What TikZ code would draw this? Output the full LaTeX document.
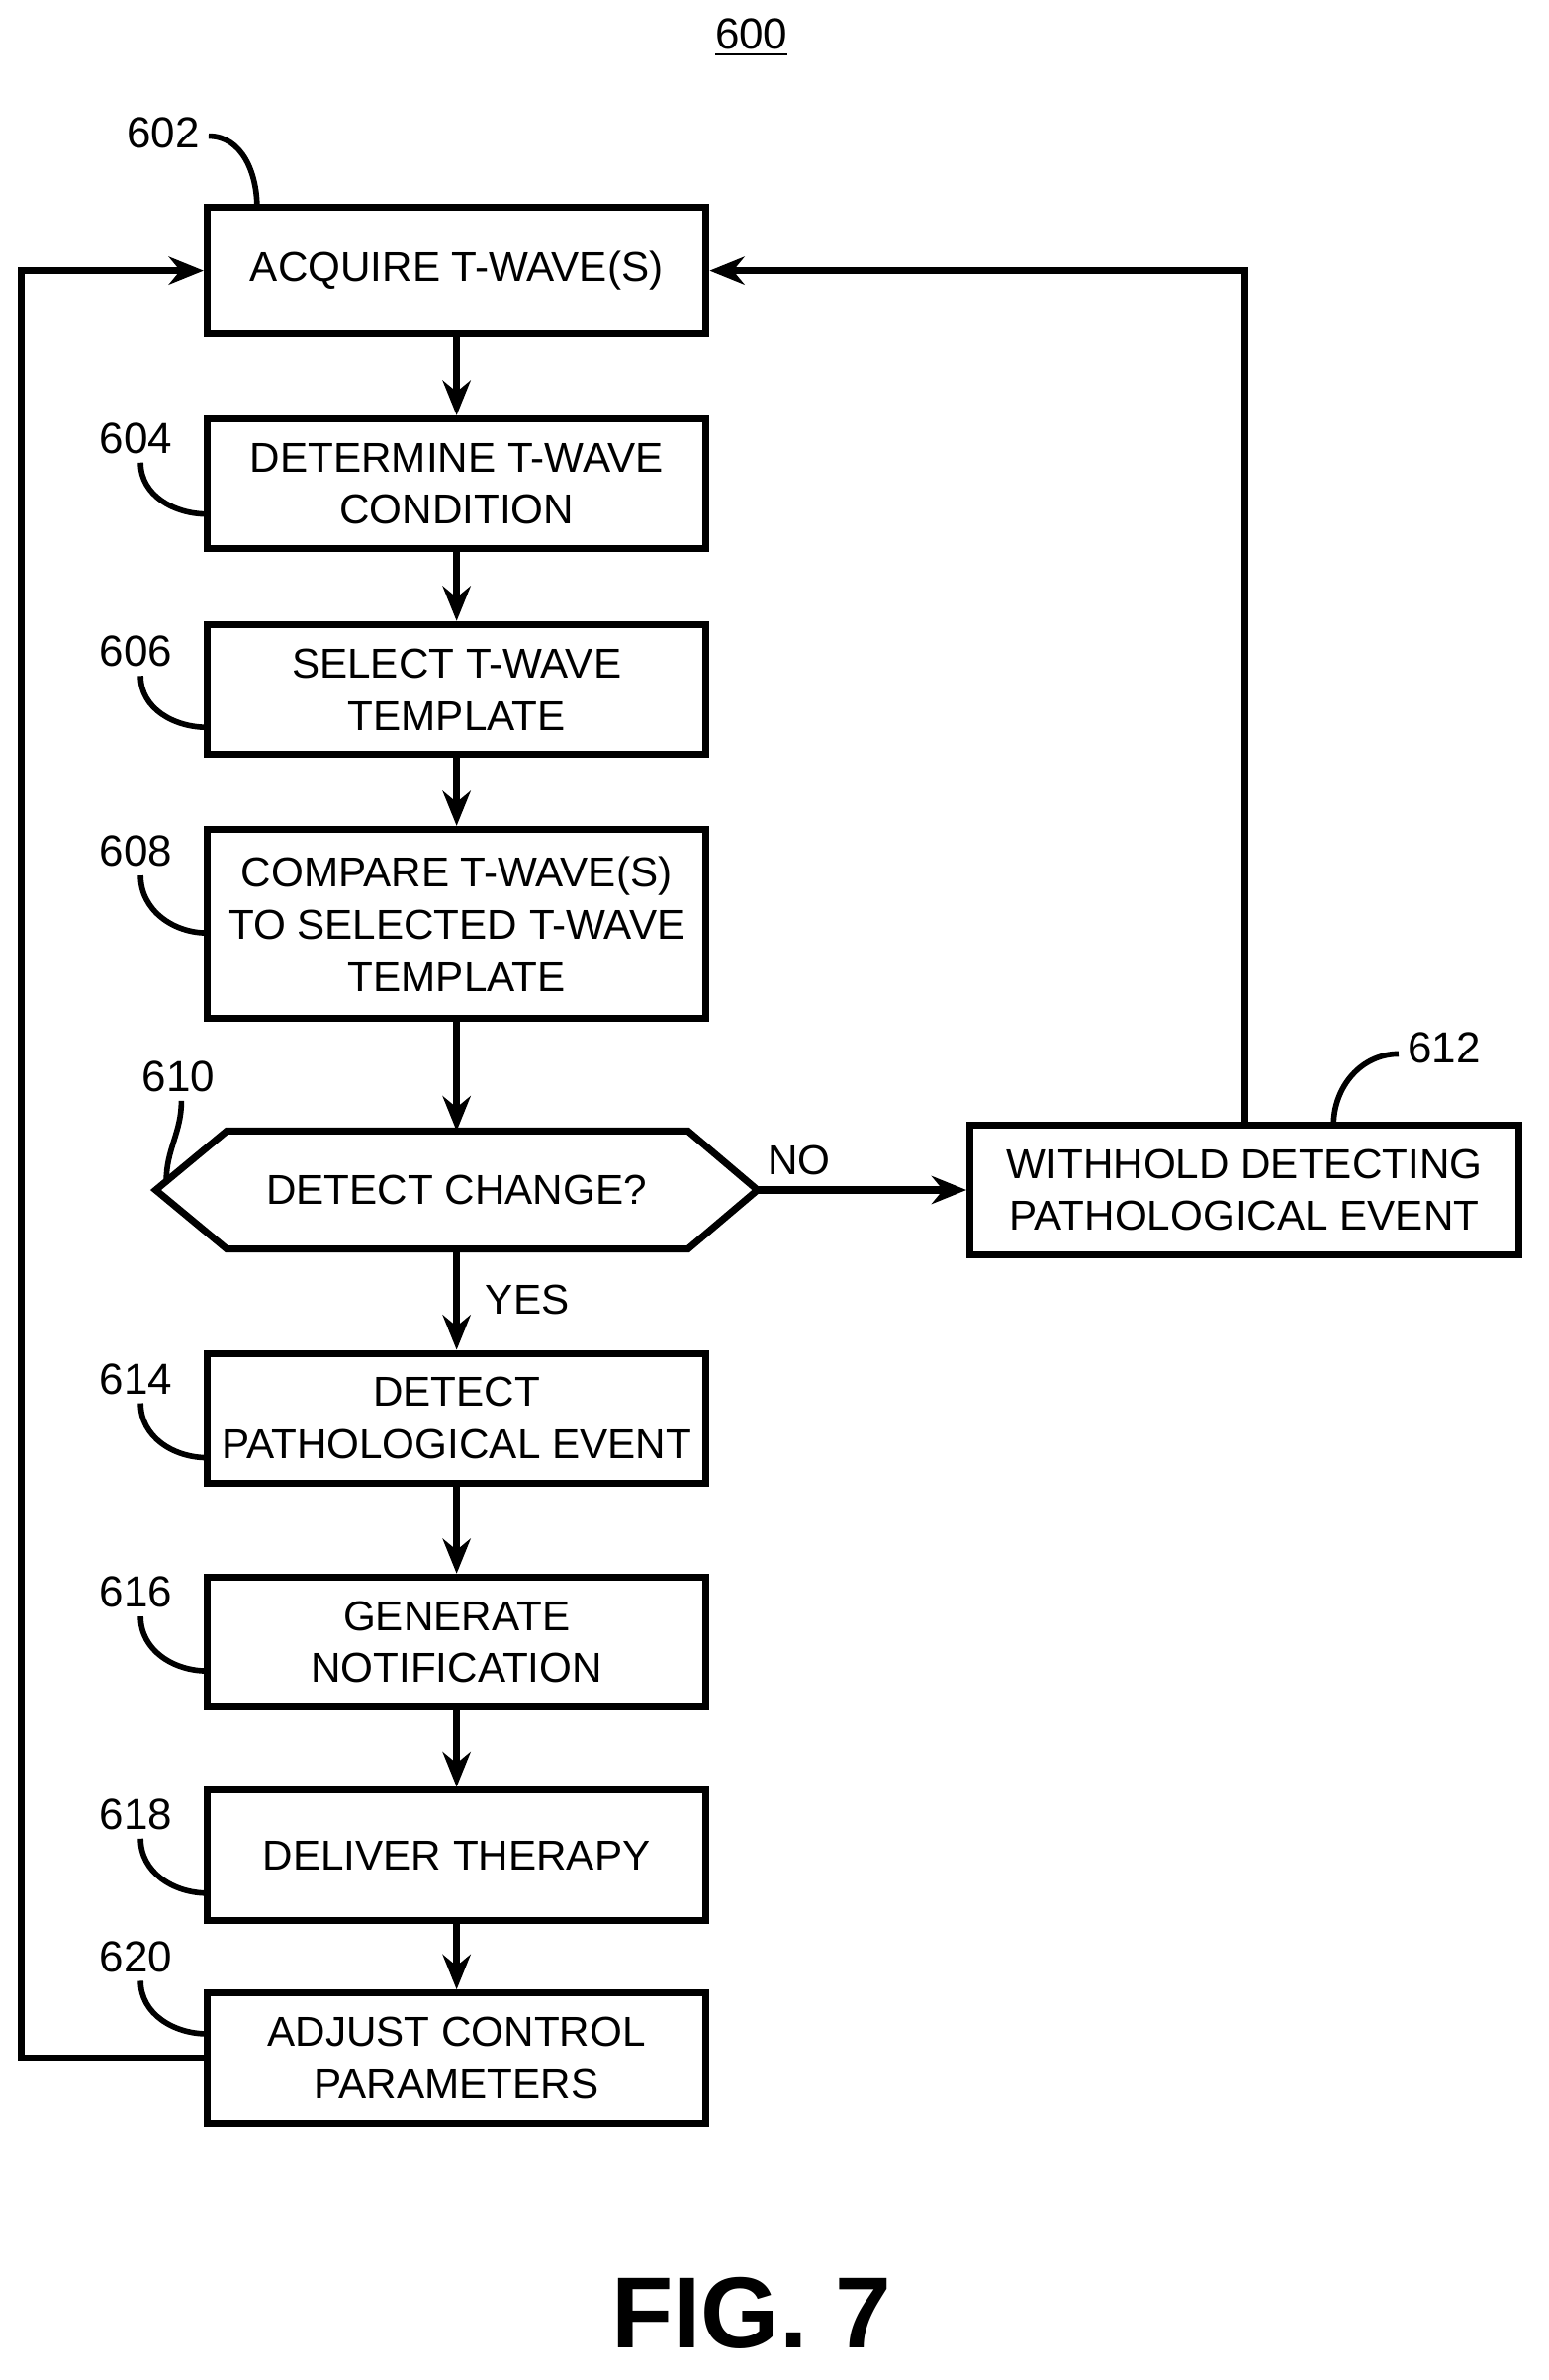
\documentclass[tikz,border=0pt]{standalone}
\usepackage{fontspec}
\setmainfont{Liberation Sans}
\usetikzlibrary{shapes.geometric,arrows.meta}
\tikzset{
  stepbox/.style={draw, line width=2pt, minimum width=330*0.01528cm, minimum height=86*0.01528cm, align=center, inner sep=0pt},
  flow/.style={line width=2pt, -{Stealth[length=10pt,width=8pt]}},
  lead/.style={line width=1.6pt},
  refnum/.style={font=\fontsize{12.5}{15}\selectfont}
}
\begin{document}
\begin{tikzpicture}[x=0.01528cm, y=-0.01528cm, font=\fontsize{12}{15}\selectfont]
	\useasboundingbox (0,0) rectangle (1024,1574);

	% Title
	\node[refnum] (title) at (497,25) {\underline{600}};

	% Main column of steps
	\node[stepbox, minimum height=84*0.01528cm] (acq) at (302,179) {ACQUIRE T-WAVE(S)};
	\node[stepbox] (cond) at (302,320) {DETERMINE T-WAVE\\CONDITION};
	\node[stepbox] (sel) at (302,456) {SELECT T-WAVE\\TEMPLATE};
	\node[stepbox, minimum height=125*0.01528cm] (cmp) at (302,611) {COMPARE T-WAVE(S)\\TO SELECTED T-WAVE\\TEMPLATE};
	\draw[line width=2pt] (103,787) -- (150,748) -- (455,748) -- (501,787) -- (455,826) -- (150,826) -- cycle;
	\node (chg) at (302,787) {DETECT CHANGE?};
	\coordinate (chgT) at (302,748);
	\coordinate (chgB) at (302,826);
	\coordinate (chgR) at (501,787);
	\node[stepbox, minimum width=363*0.01528cm] (hold) at (823,787) {WITHHOLD DETECTING\\PATHOLOGICAL EVENT};
	\node[stepbox] (det) at (302,938) {DETECT\\PATHOLOGICAL EVENT};
	\node[stepbox] (gen) at (302,1086) {GENERATE\\NOTIFICATION};
	\node[stepbox] (ther) at (302,1227) {DELIVER THERAPY};
	\node[stepbox] (adj) at (302,1361) {ADJUST CONTROL\\PARAMETERS};

	% Connectors
	\draw[flow] (acq) -- (cond);
	\draw[flow] (cond) -- (sel);
	\draw[flow] (sel) -- (cmp);
	\draw[flow] (cmp) -- (chgT);
	\draw[flow] (chgB) -- node[right, xshift=4pt] {YES} (det);
	\draw[flow] (chgR) -- node[above, pos=0.2] {NO} (hold);
	\draw[flow] (det) -- (gen);
	\draw[flow] (gen) -- (ther);
	\draw[flow] (ther) -- (adj);
	\draw[flow] (hold.north) |- (acq.east);
	\draw[flow] (adj.west) -- (14,1361) |- (acq.west);

	% Reference numbers
	\node[refnum] (n602) at (108,88) {602};
	\draw[lead] (138,90) to[out=0, in=90] (170,137);
	\node[refnum] (n604) at (90,290) {604};
	\draw[lead] (93,306) to[out=270, in=180] (137,340);
	\node[refnum] (n606) at (90,431) {606};
	\draw[lead] (93,447) to[out=270, in=180] (137,481);
	\node[refnum] (n608) at (90,563) {608};
	\draw[lead] (93,579) to[out=270, in=180] (137,617);
	\node[refnum] (n610) at (118,712) {610};
	\draw[lead] (120,728) to[out=270, in=90] (110,781);
	\node[refnum] (n612) at (955,693) {612};
	\draw[lead] (925,697) to[out=180, in=90] (882,744);
	\node[refnum] (n614) at (90,912) {614};
	\draw[lead] (93,928) to[out=270, in=180] (137,964);
	\node[refnum] (n616) at (90,1053) {616};
	\draw[lead] (93,1069) to[out=270, in=180] (137,1105);
	\node[refnum] (n618) at (90,1200) {618};
	\draw[lead] (93,1216) to[out=270, in=180] (137,1252);
	\node[refnum] (n620) at (90,1294) {620};
	\draw[lead] (93,1310) to[out=270, in=180] (137,1345);

	% Figure label
	\node[font=\fontsize{29}{34}\selectfont\bfseries] (fig) at (497,1530) {FIG. 7};
\end{tikzpicture}
\end{document}
